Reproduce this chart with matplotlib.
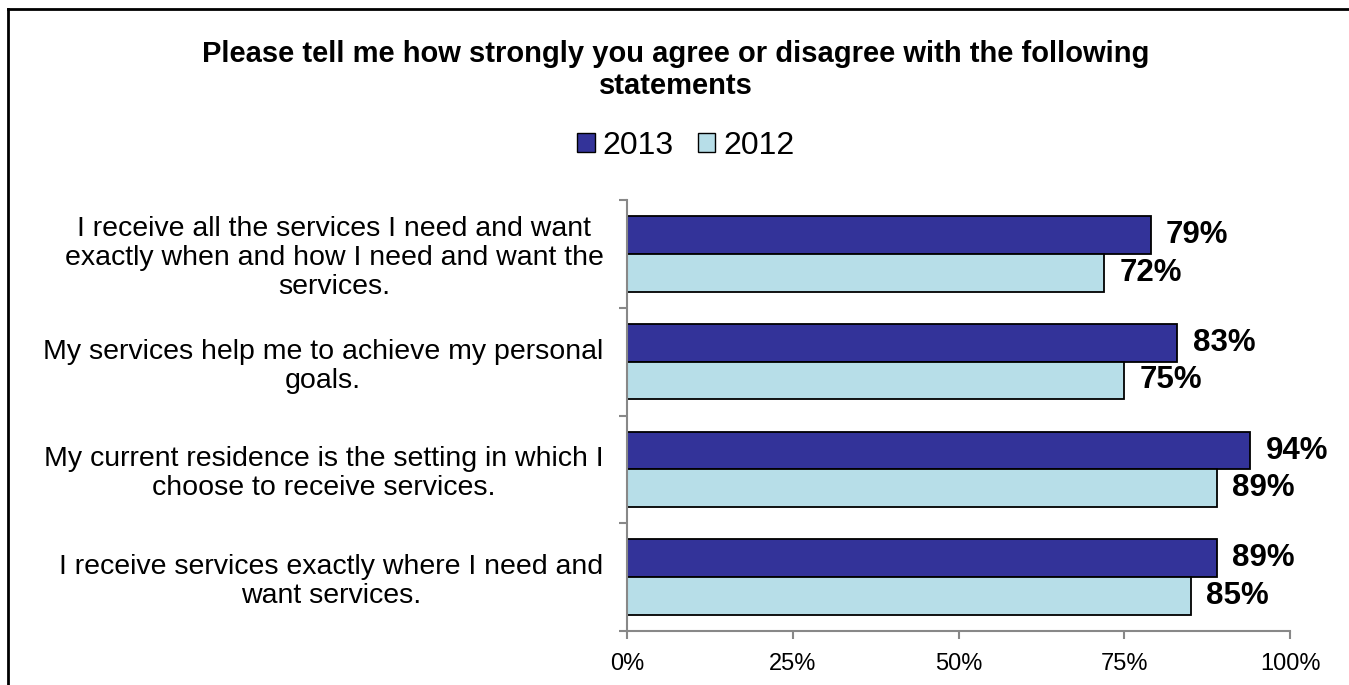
import matplotlib
matplotlib.use("Agg")
import matplotlib.pyplot as plt
from matplotlib.lines import Line2D
from matplotlib.patches import Patch
from matplotlib.ticker import FixedLocator, PercentFormatter

plt.rcParams['font.family'] = ['Liberation Sans', 'DejaVu Sans']

statements = [
    "I receive all the services I need and want\nexactly when and how I need and want the\nservices.",
    "My services help me to achieve my personal\ngoals.",
    "My current residence is the setting in which I\nchoose to receive services.",
    "I receive services exactly where I need and\nwant services.",
]
values_2013 = [79, 83, 94, 89]
values_2012 = [72, 75, 89, 85]
series_names = ["2013", "2012"]
x_ticks = [0, 25, 50, 75, 100]

color_2013 = "#333399"
color_2012 = "#B7DEE8"
axis_gray = "#888888"

fig = plt.figure(figsize=(13.49, 6.85), dpi=100)
ax = fig.add_axes([627 / 1349, 1 - 631 / 685, (1290 - 627) / 1349, (631 - 200) / 685])

bar_h = 0.35
ys = list(range(len(statements)))
ax.barh([y - bar_h / 2 for y in ys], values_2013, height=bar_h, color=color_2013,
        edgecolor="black", linewidth=1.3, label=series_names[0])
ax.barh([y + bar_h / 2 for y in ys], values_2012, height=bar_h, color=color_2012,
        edgecolor="black", linewidth=1.3, label=series_names[1])

for y, v in zip(ys, values_2013):
    ax.annotate(f"{v}%", (v, y - bar_h / 2), xytext=(11, 0), textcoords="offset points",
                va="center", ha="left", fontsize=22.5, fontweight="bold")
for y, v in zip(ys, values_2012):
    ax.annotate(f"{v}%", (v, y + bar_h / 2), xytext=(11, 0), textcoords="offset points",
                va="center", ha="left", fontsize=22.5, fontweight="bold")

ax.set_xlim(0, 100)
ax.set_ylim(len(statements) - 0.5, -0.5)

for side in ("top", "right"):
    ax.spines[side].set_visible(False)
for side in ("left", "bottom"):
    ax.spines[side].set_color(axis_gray)
    ax.spines[side].set_linewidth(1.5)

ax.xaxis.set_major_locator(FixedLocator(x_ticks))
ax.xaxis.set_major_formatter(PercentFormatter(decimals=0))
ax.tick_params(axis="x", direction="out", length=5.5, width=1.5, color=axis_gray,
               labelsize=17, pad=10)

# category boundaries carry the ticks, labels sit at the centres
ax.set_yticks([y - 0.5 for y in ys] + [len(ys) - 0.5])
ax.set_yticklabels([])
ax.tick_params(axis="y", which="major", direction="out", length=6, width=1.5, color=axis_gray)
ax.set_yticks(ys, minor=True)
ax.set_yticklabels(statements, minor=True, fontsize=20.5, multialignment="center",
                   linespacing=1.15)
ax.tick_params(axis="y", which="minor", length=0, pad=17)

fig.text(676 / 1349, 1 - 70 / 685,
         "Please tell me how strongly you agree or disagree with the following\nstatements",
         ha="center", va="center", fontsize=21, fontweight="bold", linespacing=1.2)

handles = [Patch(facecolor=color_2013, edgecolor="black", linewidth=1.0),
           Patch(facecolor=color_2012, edgecolor="black", linewidth=1.0)]
fig.legend(handles, series_names, loc="center", bbox_to_anchor=(686 / 1349, 1 - 146 / 685),
           ncol=2, frameon=False, fontsize=23, handlelength=0.55, handleheight=0.55,
           handletextpad=0.25, columnspacing=0.75, borderpad=0)

# frame drawn along the top and left edges of the figure
fig.add_artist(Line2D([8 / 1349, 8 / 1349], [0, 1 - 9 / 685], transform=fig.transFigure,
                      color="black", linewidth=2))
fig.add_artist(Line2D([8 / 1349, 1], [1 - 9 / 685, 1 - 9 / 685], transform=fig.transFigure,
                      color="black", linewidth=2))

fig.savefig("out.png", dpi=100)
